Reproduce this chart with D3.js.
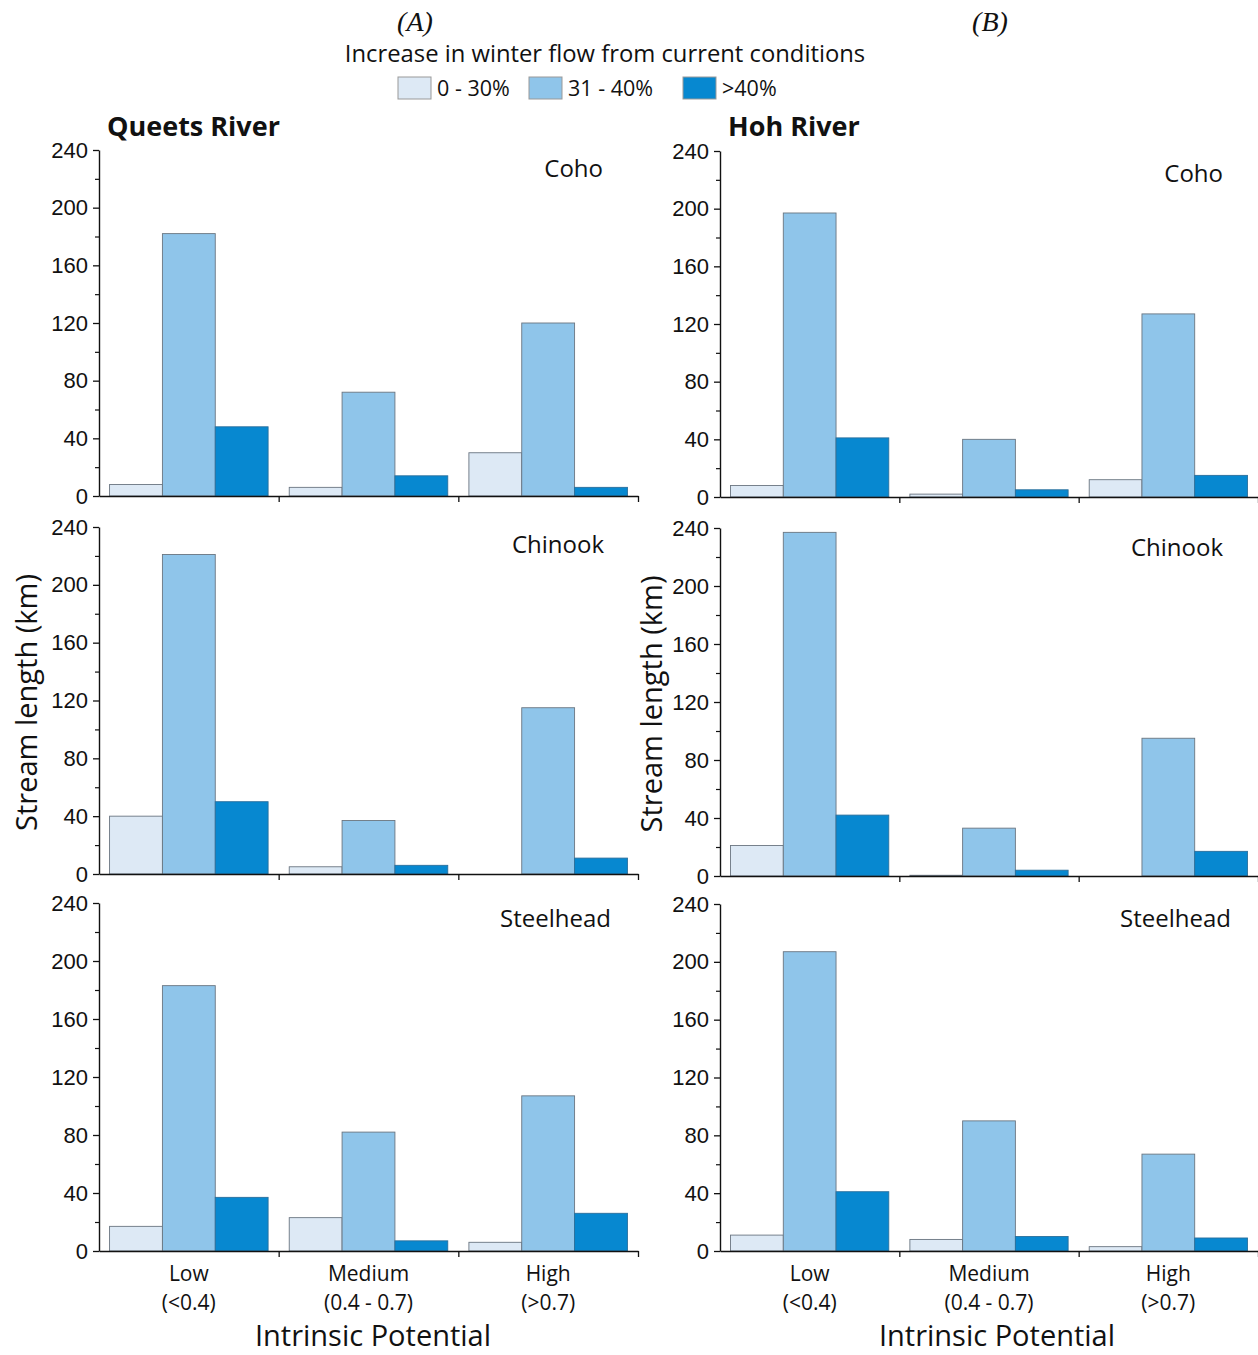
<!DOCTYPE html>
<html>
<head>
<meta charset="utf-8">
<script src="https://cdn.jsdelivr.net/npm/d3@7"></script>
<style>
  html, body { margin: 0; padding: 0; background: #ffffff; }
  svg { display: block; }
  .lbl { font-family: "Open Sans", "Noto Sans", sans-serif; fill: #111; }
  .tick text { font-family: "Liberation Sans", Arial, sans-serif; }
</style>
</head>
<body>
<svg id="chart" width="1258" height="1355"></svg>
<script>
// Intrinsic-potential classes on the x axis
const categories = ["Low", "Medium", "High"];
const categoryRanges = ["(<0.4)", "(0.4 -  0.7)", "(>0.7)"];

// Winter-flow increase classes (one bar each per category)
const seriesNames = ["0 - 30%", "31 - 40%", ">40%"];
const seriesColors = ["#dde9f5", "#8fc5ea", "#0788d0"];

const rivers = ["Queets River", "Hoh River"];
const panelLetters = ["(A)", "(B)"];
const species = ["Coho", "Chinook", "Steelhead"];
const yTicks = [0, 40, 80, 120, 160, 200, 240];
const yMinorTicks = [20, 60, 100, 140, 180, 220];

// Stream length (km); each row = one category, values in series order
const queetsCoho      = [[8, 182, 48], [6, 72, 14], [30, 120, 6]];
const queetsChinook   = [[40, 221, 50], [5, 37, 6], [0, 115, 11]];
const queetsSteelhead = [[17, 183, 37], [23, 82, 7], [6, 107, 26]];
const hohCoho         = [[8, 197, 41], [2, 40, 5], [12, 127, 15]];
const hohChinook      = [[21, 237, 42], [0.5, 33, 4], [0, 95, 17]];
const hohSteelhead    = [[11, 207, 41], [8, 90, 10], [3, 67, 9]];

const riverData = [
  [queetsCoho, queetsChinook, queetsSteelhead],
  [hohCoho, hohChinook, hohSteelhead]
];

// Panel geometry (pixels)
const colX = [[99, 638], [720, 1258]];
const rowY = [
  [[150, 496], [527, 874], [903, 1251]],
  [[151, 497], [528, 876], [904, 1251]]
];
const speciesLabelPos = [
  [[603, 177], [604, 553], [611, 927]],
  [[1223, 182], [1223, 556], [1231, 927]]
];

const svg = d3.select("#chart");

// Heading letters
panelLetters.forEach((t, i) => {
  svg.append("text")
    .attr("x", i === 0 ? 415 : 990).attr("y", 31)
    .attr("text-anchor", "middle")
    .style("font-family", "'Liberation Serif', 'Times New Roman', serif")
    .style("font-style", "italic")
    .style("font-size", "28px")
    .style("fill", "#111")
    .text(t);
});

// Legend
svg.append("text").attr("class", "lbl")
  .attr("x", 605).attr("y", 62)
  .attr("text-anchor", "middle")
  .style("font-size", "23.8px")
  .text("Increase in winter flow from current conditions");

const legendX = [398, 529, 683];
seriesNames.forEach((s, i) => {
  const g = svg.append("g").attr("transform", `translate(${legendX[i]},77)`);
  g.append("rect").attr("width", 33).attr("height", 22)
    .attr("fill", seriesColors[i]).attr("stroke", "#999").attr("stroke-width", 1);
  g.append("text").attr("class", "lbl")
    .attr("x", 39).attr("y", 19)
    .style("font-size", "21.5px")
    .text(s);
});

rivers.forEach((river, c) => {
  const [x0, x1] = colX[c];

  // River title
  svg.append("text").attr("class", "lbl")
    .attr("x", x0 + 8).attr("y", 136)
    .style("font-size", "27px").style("font-weight", "700")
    .text(river);

  const x = d3.scaleBand().domain(categories).range([x0, x1]).padding(0);
  const xs = d3.scaleBand().domain(seriesNames).range([0, x.bandwidth()])
    .paddingInner(0).paddingOuter(0.2);

  species.forEach((sp, r) => {
    const [yTop, yBot] = rowY[c][r];
    const y = d3.scaleLinear().domain([0, 240]).range([yBot, yTop]);
    const data = riverData[c][r];
    const g = svg.append("g");

    // Bars
    categories.forEach((cat, ci) => {
      g.selectAll(null)
        .data(data[ci].map((v, si) => ({ v, s: seriesNames[si], si })))
        .enter().append("rect")
        .attr("x", d => x(cat) + xs(d.s))
        .attr("y", d => y(d.v))
        .attr("width", xs.bandwidth())
        .attr("height", d => y(0) - y(d.v))
        .attr("fill", d => seriesColors[d.si])
        .attr("stroke", d => d.si === 2 ? "#2a6f9c" : "#6a7580")
        .attr("stroke-width", 0.9);
    });

    // Y axis with major and minor ticks
    const yAxis = g.append("g").attr("transform", `translate(${x0},0)`)
      .call(d3.axisLeft(y).tickValues(yTicks).tickSize(6).tickSizeOuter(0).tickPadding(5));
    yAxis.selectAll("text").style("font-size", "22px").style("fill", "#111");
    yAxis.select(".domain").attr("stroke", "#111").attr("stroke-width", 1.4);
    yAxis.selectAll(".tick line").attr("stroke", "#111").attr("stroke-width", 1.3);
    const yMinor = g.append("g").attr("transform", `translate(${x0},0)`)
      .call(d3.axisLeft(y).tickValues(yMinorTicks).tickSize(4).tickFormat(""));
    yMinor.select(".domain").remove();
    yMinor.selectAll(".tick line").attr("stroke", "#111").attr("stroke-width", 1.2);

    // X axis line with ticks at category boundaries
    const xb = d3.scaleLinear().domain([0, categories.length]).range([x0, x1]);
    const xAxis = g.append("g").attr("transform", `translate(0,${y(0)})`)
      .call(d3.axisBottom(xb).tickValues([1, 2, 3]).tickSize(6).tickSizeOuter(0).tickFormat(""));
    xAxis.select(".domain").attr("stroke", "#111").attr("stroke-width", 1.4);
    xAxis.selectAll(".tick line").attr("stroke", "#111").attr("stroke-width", 1.3);

    // Species name
    svg.append("text").attr("class", "lbl")
      .attr("x", speciesLabelPos[c][r][0]).attr("y", speciesLabelPos[c][r][1])
      .attr("text-anchor", "end")
      .style("font-size", "24px")
      .text(sp);

    // Category labels on the bottom row
    if (r === species.length - 1) {
      categories.forEach((cat, ci) => {
        const cx = x(cat) + x.bandwidth() / 2;
        svg.append("text").attr("class", "lbl")
          .attr("x", cx).attr("y", 1281).attr("text-anchor", "middle")
          .style("font-size", "21px").text(cat);
        svg.append("text").attr("class", "lbl")
          .attr("x", cx).attr("y", 1310).attr("text-anchor", "middle")
          .style("font-size", "21px").text(categoryRanges[ci]);
      });
    }
  });

  // Y axis title
  const yMid = (rowY[c][1][0] + rowY[c][1][1]) / 2 + 2;
  svg.append("text").attr("class", "lbl")
    .attr("transform", `translate(${c === 0 ? 37 : 662},${yMid}) rotate(-90)`)
    .attr("text-anchor", "middle")
    .style("font-size", "29px")
    .text("Stream length (km)");

  // X axis title
  svg.append("text").attr("class", "lbl")
    .attr("x", c === 0 ? 373 : 997).attr("y", 1346)
    .attr("text-anchor", "middle")
    .style("font-size", "29px")
    .text("Intrinsic Potential");
});
</script>
</body>
</html>
